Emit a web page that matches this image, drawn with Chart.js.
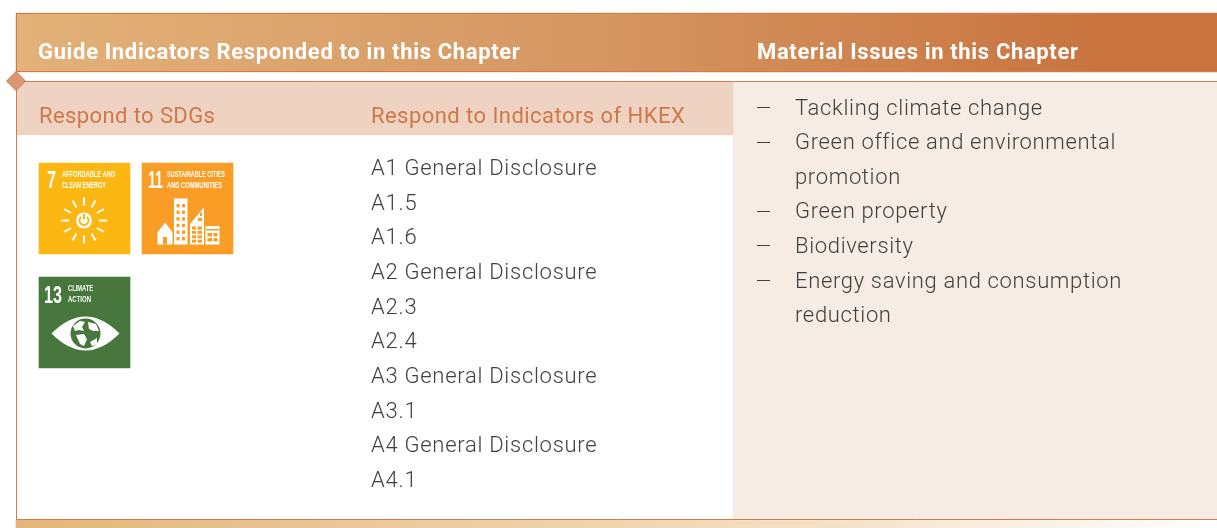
<!DOCTYPE html>
<html>
<head>
<meta charset="utf-8">
<style>
  html, body { margin: 0; padding: 0; background: #fff; overflow: hidden; }
  #wrap { width: 1217px; height: 528px; }
</style>
<script src="https://cdn.jsdelivr.net/npm/chart.js@4"></script>
</head>
<body>
<div id="wrap"><canvas id="tabela" width="1217" height="528"></canvas></div>
<script>
// Textos da tabela
const headerTitles = ["Guide Indicators Responded to in this Chapter", "Material Issues in this Chapter"];
const subTitles = ["Respond to SDGs", "Respond to Indicators of HKEX"];
const hkexIndicators = ["A1 General Disclosure", "A1.5", "A1.6", "A2 General Disclosure", "A2.3", "A2.4",
  "A3 General Disclosure", "A3.1", "A4 General Disclosure", "A4.1"];
// null = continuação da linha anterior (sem travessão)
const materialIssues = ["Tackling climate change", "Green office and environmental", null, "Green property",
  "Biodiversity", "Energy saving and consumption", null];
const materialContinued = ["promotion", "reduction"];
const sdgNumbers = ["7", "11", "13"];
const sdgLabels = [["AFFORDABLE AND", "CLEAN ENERGY"], ["SUSTAINABLE CITIES", "AND COMMUNITIES"], ["CLIMATE", "ACTION"]];

const TXT = "#404040", ORANGE = "#cf7848", LINE = "#d27a4c";
const FONT = "Roboto";

// cada painel é uma barra flutuante, eixos em unidades de pixel
function panel(label, x0, x1, top, bottom, color, extra) {
  return Object.assign({
    label, data: [{ x: [x0, x1], y: (top + bottom) / 2 }],
    barThickness: bottom - top, backgroundColor: color, borderWidth: 0, grouped: false
  }, extra || {});
}
function grad(stops) {
  return c => {
    const g = c.chart.ctx.createLinearGradient(16, 0, 1217, 0);
    stops.forEach(s => g.addColorStop(s[0], s[1]));
    return g;
  };
}

function text(ctx, s, x, y, font, color, spacing) {
  ctx.font = font;
  ctx.fillStyle = color;
  ctx.letterSpacing = (spacing || 0) + "px";
  ctx.textBaseline = "alphabetic";
  ctx.textAlign = "left";
  ctx.fillText(s, x, y);
  ctx.letterSpacing = "0px";
}
// texto condensado para caber na largura dos ícones
function narrow(ctx, s, x, y, font, width) {
  ctx.font = font;
  ctx.fillStyle = "#fff";
  ctx.textBaseline = "alphabetic";
  ctx.textAlign = "left";
  ctx.fillText(s, x, y, width);
}

function drawSun(ctx) {
  const cx = 84, cy = 220.5;
  ctx.strokeStyle = "#fff"; ctx.lineWidth = 2;
  for (let i = 0; i < 12; i++) {
    const a = i * Math.PI / 6;
    ctx.beginPath();
    ctx.moveTo(cx + Math.sin(a) * 15, cy - Math.cos(a) * 15);
    ctx.lineTo(cx + Math.sin(a) * 23, cy - Math.cos(a) * 23);
    ctx.stroke();
  }
  ctx.fillStyle = "#fff";
  ctx.beginPath(); ctx.arc(cx, cy, 8, 0, Math.PI * 2); ctx.fill();
  ctx.strokeStyle = "#fdb713"; ctx.lineWidth = 2;
  ctx.beginPath(); ctx.arc(cx, cy, 4.5, -Math.PI * 0.28, Math.PI * 1.28); ctx.stroke();
  ctx.beginPath(); ctx.moveTo(cx, cy - 6.5); ctx.lineTo(cx, cy - 1); ctx.stroke();
}

function drawCity(ctx) {
  const base = 244.5, bg = "#fa9d26";
  ctx.fillStyle = "#fff";
  // casa
  ctx.beginPath();
  ctx.moveTo(157.5, 232.5); ctx.lineTo(165, 222.5); ctx.lineTo(172.5, 232.5);
  ctx.lineTo(172.5, base); ctx.lineTo(157.5, base); ctx.closePath(); ctx.fill();
  // torre, prédio inclinado, prédio baixo
  ctx.fillRect(174, 198.5, 13.5, base - 198.5);
  ctx.beginPath();
  ctx.moveTo(190, base); ctx.lineTo(190, 224); ctx.lineTo(204, 207.5); ctx.lineTo(204, base); ctx.closePath(); ctx.fill();
  ctx.fillRect(205.5, 226, 14, base - 226);
  ctx.fillStyle = bg;
  ctx.fillRect(163, 237, 4, base - 237);
  for (let r = 0; r < 6; r++) {
    ctx.fillRect(176.5, 204 + r * 6.6, 3, 3.4);
    ctx.fillRect(182, 204 + r * 6.6, 3, 3.4);
  }
  for (let r = 0; r < 4; r++) {
    ctx.fillRect(192, 226.5 + r * 4.4, 4, 3);
    ctx.fillRect(197.5, 226.5 + r * 4.4, 4.5, 3);
  }
  ctx.fillRect(198, 218, 4, 3); ctx.fillRect(200, 212.5, 2, 3.5);
  ctx.fillRect(205.5, 229, 14, 1.5);
  ctx.fillRect(207.5, 233, 4.5, 3.5); ctx.fillRect(213.5, 233, 4, 3.5);
  ctx.fillRect(207.5, 238, 4.5, 3.5); ctx.fillRect(213.5, 238, 4, 3.5);
}

function drawEye(ctx) {
  const cx = 85.5, cy = 333.5, green = "#48773e";
  ctx.fillStyle = "#fff";
  ctx.beginPath();
  ctx.moveTo(51.5, cy);
  ctx.quadraticCurveTo(cx, cy - 34, 119.5, cy);
  ctx.quadraticCurveTo(cx, cy + 34, 51.5, cy);
  ctx.fill();
  ctx.fillStyle = green;
  ctx.beginPath(); ctx.arc(cx, cy, 15, 0, Math.PI * 2); ctx.fill();
  // continentes
  ctx.fillStyle = "#fff";
  ctx.beginPath();
  ctx.moveTo(73, 326); ctx.lineTo(80, 321); ctx.lineTo(85, 322); ctx.lineTo(82, 327); ctx.lineTo(84, 331);
  ctx.lineTo(79, 330); ctx.lineTo(75, 331); ctx.closePath(); ctx.fill();
  ctx.beginPath();
  ctx.moveTo(88, 322); ctx.lineTo(96, 324); ctx.lineTo(99, 331); ctx.lineTo(93, 331); ctx.lineTo(89, 329); ctx.closePath(); ctx.fill();
  ctx.beginPath();
  ctx.moveTo(76, 335); ctx.lineTo(84, 334); ctx.lineTo(87, 339); ctx.lineTo(84, 346); ctx.lineTo(80, 344); ctx.closePath(); ctx.fill();
  ctx.beginPath();
  ctx.moveTo(90, 342); ctx.lineTo(97, 338); ctx.lineTo(97, 344); ctx.lineTo(92, 346); ctx.closePath(); ctx.fill();
}

// desenha textos, ícones e losango por cima das barras
const conteudo = {
  id: "conteudo",
  afterDatasetsDraw(chart) {
    const ctx = chart.ctx, sx = chart.scales.x, sy = chart.scales.y;
    const X = v => sx.getPixelForValue(v), Y = v => sy.getPixelForValue(v);
    ctx.save();

    // linhas
    ctx.strokeStyle = LINE; ctx.lineWidth = 1;
    ctx.beginPath();
    ctx.moveTo(X(16.5), Y(13)); ctx.lineTo(X(16.5), Y(520));
    ctx.moveTo(X(16), Y(13.5)); ctx.lineTo(X(1217), Y(13.5));
    ctx.moveTo(X(16), Y(71.5)); ctx.lineTo(X(1217), Y(71.5));
    ctx.moveTo(X(16), Y(81.5)); ctx.lineTo(X(1217), Y(81.5));
    ctx.moveTo(X(16), Y(519.5)); ctx.lineTo(X(1217), Y(519.5));
    ctx.stroke();

    // losango
    ctx.fillStyle = "#d99873";
    ctx.beginPath();
    ctx.moveTo(X(16), Y(71.5)); ctx.lineTo(X(25.5), Y(81)); ctx.lineTo(X(16), Y(90.5)); ctx.lineTo(X(6.5), Y(81)); ctx.closePath();
    ctx.fill(); ctx.stroke();

    // cabeçalhos
    const bold = `700 22px ${FONT}`;
    text(ctx, headerTitles[0], X(38), Y(59), bold, "#fff", 0.65);
    text(ctx, headerTitles[1], X(757), Y(59), bold, "#fff", 0.65);
    const sub = `400 22px ${FONT}`;
    text(ctx, subTitles[0], X(39), Y(123), sub, ORANGE, 0.4);
    text(ctx, subTitles[1], X(371), Y(123), sub, ORANGE, 0.45);

    // coluna HKEX
    const corpo = `300 22px ${FONT}`;
    hkexIndicators.forEach((s, i) => text(ctx, s, X(371), Y(175 + i * 34.65), corpo, TXT, 0.72));

    // coluna de temas materiais
    let cont = 0;
    materialIssues.forEach((s, i) => {
      const y = Y(114.5 + i * 34.6);
      if (s === null) {
        text(ctx, materialContinued[cont++], X(795), y, corpo, TXT, 0.66);
      } else {
        ctx.fillStyle = TXT;
        ctx.fillRect(X(757), Math.round(y - 7.5), 13, 1);
        text(ctx, s, X(795), y, corpo, TXT, 0.66);
      }
    });

    // ícones ODS
    const num = "700 24px 'Liberation Sans'", peq = "700 9px 'Liberation Sans'";
    narrow(ctx, sdgNumbers[0], X(47), Y(188), num, 9);
    narrow(ctx, sdgLabels[0][0], X(62), Y(177), peq, 53);
    narrow(ctx, sdgLabels[0][1], X(62), Y(188), peq, 44);
    narrow(ctx, sdgNumbers[1], X(148), Y(188), num, 15);
    narrow(ctx, sdgLabels[1][0], X(167), Y(177), peq, 58);
    narrow(ctx, sdgLabels[1][1], X(167), Y(188), peq, 55);
    narrow(ctx, sdgNumbers[2], X(44), Y(302.5), num, 18);
    narrow(ctx, sdgLabels[2][0], X(68), Y(291), peq, 25);
    narrow(ctx, sdgLabels[2][1], X(68), Y(302), peq, 23);
    drawSun(ctx);
    drawCity(ctx);
    drawEye(ctx);
    ctx.restore();
  }
};

new Chart(document.getElementById("tabela"), {
  type: "bar",
  data: {
    datasets: [
      panel("cabecalho", 16, 1217, 13, 72, grad([[0, "#e3b279"], [0.5, "#d59560"], [0.9, "#c9743f"], [1, "#c9743f"]])),
      panel("subcabecalho", 17, 733, 82, 135, "#efd3c2"),
      panel("materiais", 733, 1217, 82, 520, "#f7ece3"),
      panel("rodape", 16, 1217, 520, 528, grad([[0, "#e3b57a"], [0.65, "#f3dfc1"], [1, "#ffffff"]])),
      panel("sdg7", 39, 130, 163, 254, "#fdb713"),
      panel("sdg11", 142, 233, 163, 254, "#fa9d26"),
      panel("sdg13", 39, 130, 277, 368, "#48773e")
    ]
  },
  options: {
    indexAxis: "y",
    responsive: false,
    animation: false,
    events: [],
    layout: { padding: 0 },
    plugins: { legend: { display: false }, tooltip: { enabled: false } },
    scales: {
      x: { type: "linear", min: 0, max: 1217, display: false },
      y: { type: "linear", min: 0, max: 528, reverse: true, offset: false, display: false }
    }
  },
  plugins: [conteudo]
});
</script>
</body>
</html>
